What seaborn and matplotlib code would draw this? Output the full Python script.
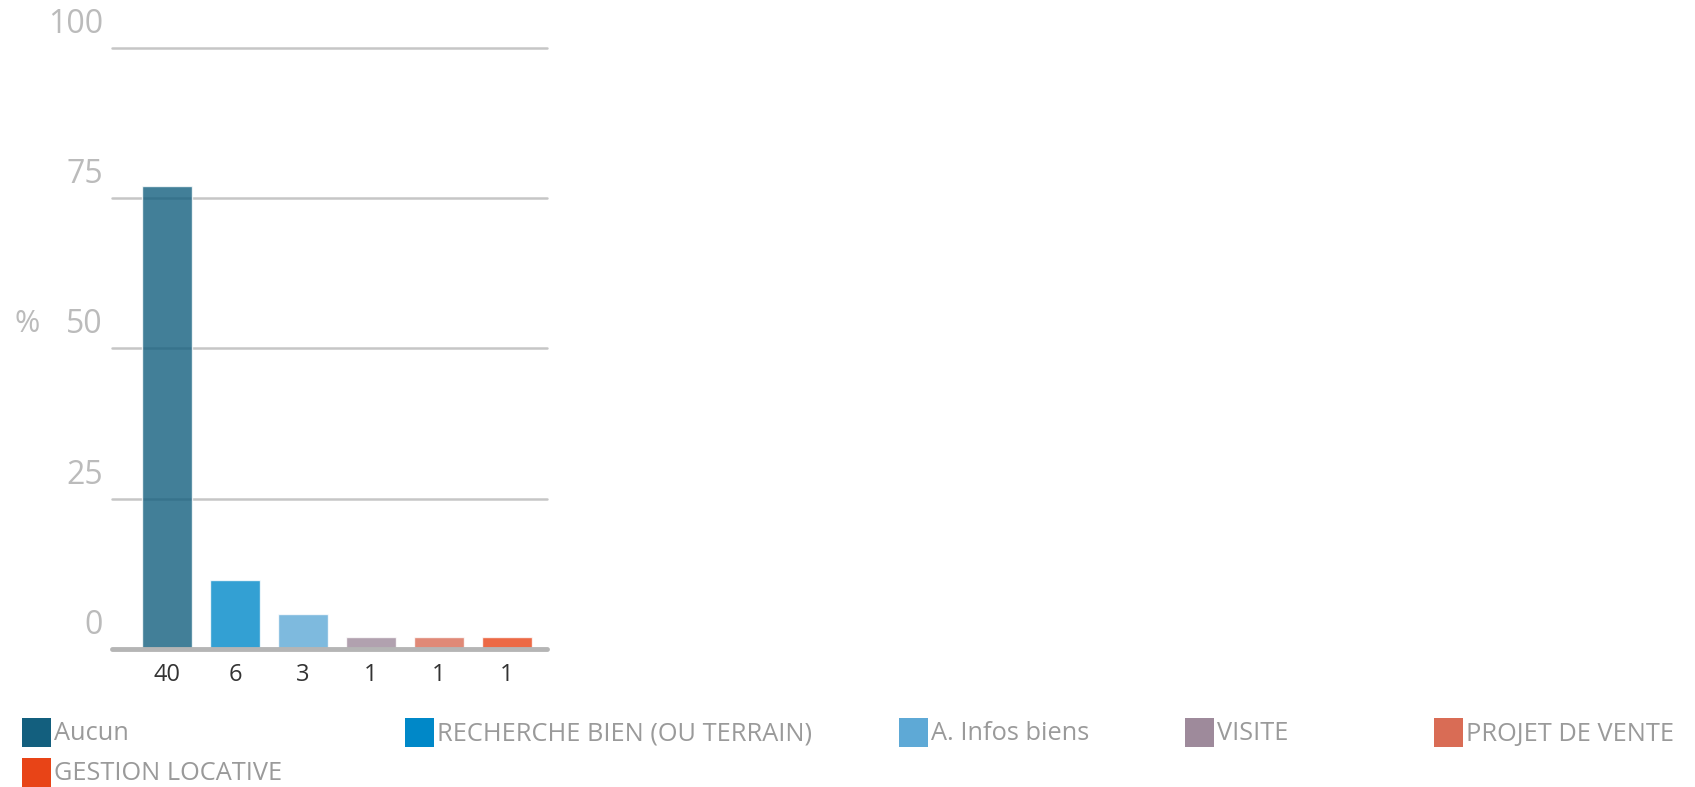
import numpy as np
import pandas as pd
import matplotlib
matplotlib.use("Agg")
import matplotlib.pyplot as plt
from matplotlib.patches import Rectangle
from matplotlib.transforms import blended_transform_factory, ScaledTranslation
import seaborn as sns

# Data
categories = ["Aucun", "RECHERCHE BIEN (OU TERRAIN)", "A. Infos biens",
              "VISITE", "PROJET DE VENTE", "GESTION LOCATIVE"]
counts = [40, 6, 3, 1, 1, 1]
colors = ["#135f7e", "#0088c8", "#5ea9d6", "#9e8a9b", "#d96c55", "#e84417"]
y_ticks = [0, 25, 50, 75, 100]

total = sum(counts)
df = pd.DataFrame({"category": categories, "count": counts})
df["pct"] = df["count"] / total * 100

sns.set_style("white")
plt.rcParams["font.family"] = ["Open Sans", "DejaVu Sans"]

fig = plt.figure(figsize=(16.95, 7.87), dpi=100)
ax = fig.add_axes([0.066, 0.1754, 0.257, 0.764])

sns.barplot(data=df, x="category", y="pct", hue="category", order=categories,
            hue_order=categories, palette=colors, alpha=0.8, width=0.73,
            legend=False, ax=ax, zorder=3, saturation=1)

ax.set_xlim(-0.81, 5.6)
ax.set_ylim(0, 100)

# gridlines and baseline
for t in y_ticks[1:]:
    ax.axhline(t, color="#c6c6c6", lw=1.8, zorder=1, clip_on=False)
ax.axhline(0, color="#b5b5b5", lw=3.5, zorder=4, clip_on=False)

for s in ax.spines.values():
    s.set_visible(False)

# x tick labels = counts
ax.set_xticks(range(len(categories)))
ax.set_xticklabels([str(c) for c in counts], fontsize=17, color="#333333")
ax.tick_params(axis="x", length=0, pad=10)
ax.set_xlabel("")
ax.set_ylabel("")

# y tick labels sit above the gridlines
ax.set_yticks([])
trans = blended_transform_factory(ax.transAxes, ax.transData)
off = ScaledTranslation(-0.09, 0.235, fig.dpi_scale_trans)
for t in y_ticks:
    ax.text(0, t, str(t), transform=trans + off, ha="right", va="center",
            fontsize=23, color="#bbbbbb")

fig.text(27 / 1695, 1 - 324 / 787, "%", ha="center", va="center",
         fontsize=22, color="#bbbbbb")

# legend laid out like the original (wrapping rows)
leg_x = [21.6, 405, 899, 1185, 1434, 21.6]
leg_y = [732, 732, 732, 732, 732, 772]
sw = 29
for name, col, lx, ly in zip(categories, colors, leg_x, leg_y):
    fig.patches.append(Rectangle((lx / 1695, 1 - (ly + sw / 2) / 787),
                                 sw / 1695, sw / 787, transform=fig.transFigure,
                                 facecolor=col, edgecolor="none"))
    fig.text((lx + sw + 3) / 1695, 1 - (ly + 2) / 787, name, ha="left", va="center",
             fontsize=18.3, color="#9a9a9a")

fig.savefig("out.png", dpi=100)
